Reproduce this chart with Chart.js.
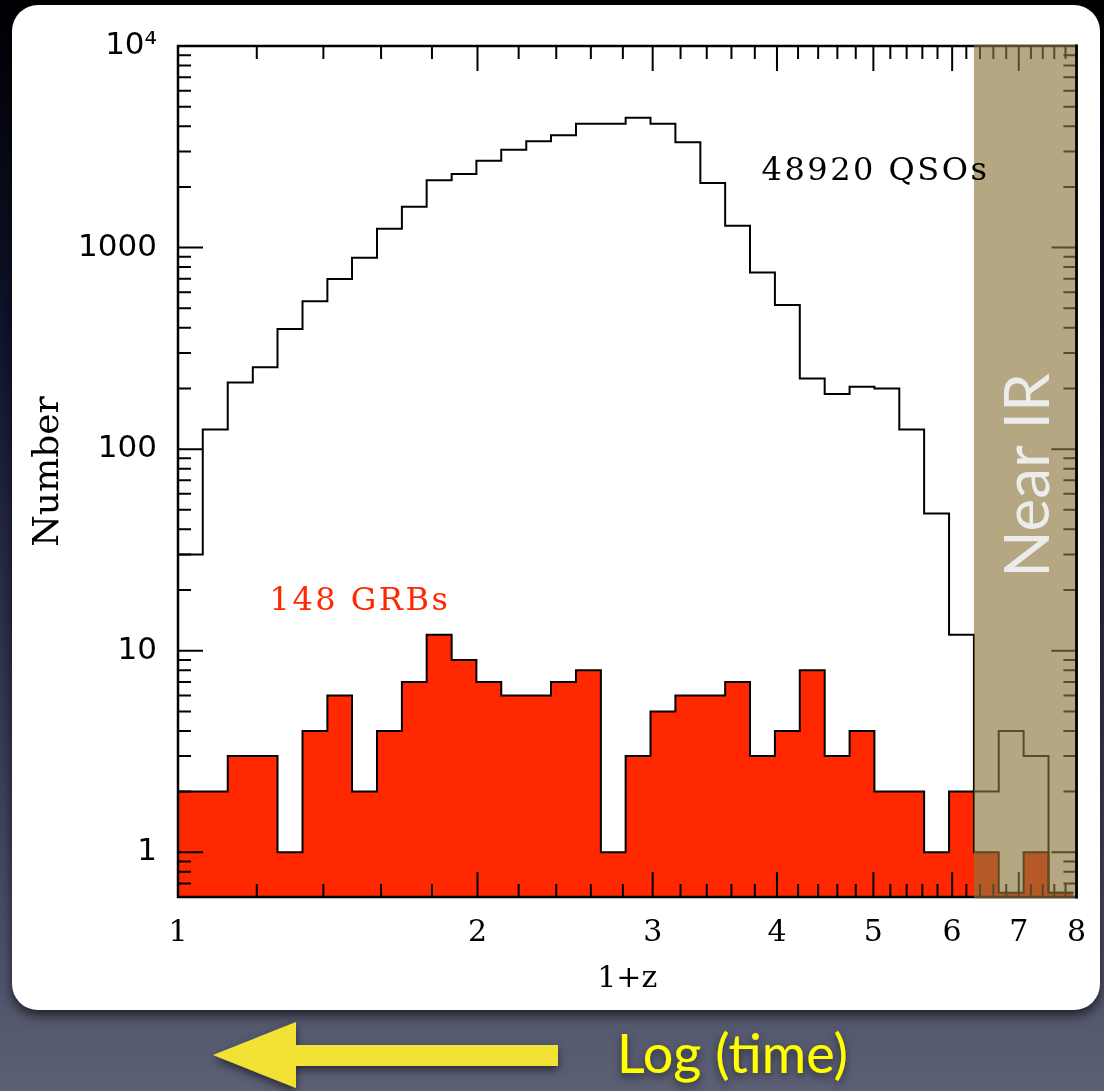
<!DOCTYPE html>
<html>
<head>
<meta charset="utf-8">
<title>Redshift distribution: QSOs and GRBs</title>
<script src="https://cdn.jsdelivr.net/npm/chart.js@4.4.0/dist/chart.umd.min.js"></script>
<style>
  html, body { margin: 0; padding: 0; }
  body {
    width: 1104px; height: 1091px; overflow: hidden; position: relative;
    background: linear-gradient(to bottom, #000003 0%, #10142b 30%, #343851 65%, #5c6075 100%);
  }
  #panel {
    position: absolute; left: 12px; top: 5px; width: 1088px; height: 1005px;
    background: #fff; border-radius: 26px;
    box-shadow: 0 5px 12px rgba(0, 0, 0, 0.65);
  }
  #chart { position: absolute; left: 0; top: 0; }
  #footer { position: absolute; left: 0; top: 0; }
</style>
</head>
<body>
<div id="panel"></div>
<canvas id="chart" width="1104" height="1091"></canvas>
<svg id="footer" width="1104" height="1091">
  <defs>
    <filter id="drop" x="-20%" y="-40%" width="140%" height="200%">
      <feDropShadow dx="0" dy="4" stdDeviation="4" flood-color="#000" flood-opacity="0.55"/>
    </filter>
  </defs>
  <polygon filter="url(#drop)" fill="#f2e236"
           points="213,1055 296,1022 296,1045 558,1045 558,1066 296,1066 296,1088"/>
  <text filter="url(#drop)" x="617" y="1073" fill="#ffff00"
        font-family="Lato, 'Open Sans', sans-serif" font-size="54">Log (time)</text>
</svg>
<script>
// histogram bins, equal width in log10(1+z)
const BIN_EDGES = [1.000, 1.059, 1.122, 1.189, 1.259, 1.334, 1.413, 1.496, 1.585,
    1.679, 1.778, 1.884, 1.995, 2.113, 2.239, 2.371, 2.512, 2.661, 2.818, 2.985,
    3.162, 3.350, 3.548, 3.758, 3.981, 4.217, 4.467, 4.732, 5.012, 5.309, 5.623,
    5.957, 6.310, 6.683, 7.079, 7.499, 7.943];

const QSO_COUNTS = [30, 125, 214, 255, 394, 541, 698, 891, 1240, 1592, 2155, 2320,
    2697, 3055, 3370, 3610, 4120, 4120, 4400, 4110, 3330, 2090, 1282, 752, 519,
    224, 188, 204, 200, 125, 48, 12, 2, 4, 3, 0];

const GRB_COUNTS = [2, 2, 3, 3, 1, 4, 6, 2, 4, 7, 12, 9, 7, 6, 6, 7, 8, 1, 3, 5,
    6, 6, 7, 3, 4, 8, 3, 4, 2, 2, 1, 2, 1, 0, 1, 0];

const X_TICKS = [1, 2, 3, 4, 5, 6, 7, 8];
const Y_TICKS = [1, 10, 100, 1000, 10000];
const Y_TICK_LABELS = ["1", "10", "100", "1000", "10⁴"];

const X_MIN = 1, X_MAX = 8;
const Y_MIN = 0.63, Y_MAX = 10000;
const NEAR_IR_FROM = 6.31;

const GRB_RED = "#ff2800";

// step outline: each bin's count held from its left edge to the next edge,
// closed down to the axis at both ends
function histPoints(counts) {
    const pts = [{ x: BIN_EDGES[0], y: Y_MIN }];
    counts.forEach((c, i) => pts.push({ x: BIN_EDGES[i], y: c > 0 ? c : Y_MIN }));
    const last = counts[counts.length - 1];
    pts.push({ x: BIN_EDGES[BIN_EDGES.length - 1], y: last > 0 ? last : Y_MIN });
    pts.push({ x: BIN_EDGES[BIN_EDGES.length - 1], y: Y_MIN });
    return pts;
}

// inward ticks on all four sides, the near-IR band and the labels
const framePlugin = {
    id: "frame",
    afterDatasetsDraw(chart) {
        const { ctx, chartArea: a, scales: { x, y } } = chart;
        ctx.save();
        ctx.strokeStyle = "#000";
        ctx.lineWidth = 2;
        ctx.beginPath();
        const xMinor = [];
        for (let d = 1; d < 8; d++) {
            for (let k = 1; k <= 4; k++) xMinor.push(d + k * 0.2);
        }
        xMinor.forEach(v => {
            const px = x.getPixelForValue(v);
            ctx.moveTo(px, a.bottom); ctx.lineTo(px, a.bottom - 13);
            ctx.moveTo(px, a.top); ctx.lineTo(px, a.top + 13);
        });
        X_TICKS.slice(1, -1).forEach(v => {
            const px = x.getPixelForValue(v);
            ctx.moveTo(px, a.bottom); ctx.lineTo(px, a.bottom - 25);
            ctx.moveTo(px, a.top); ctx.lineTo(px, a.top + 25);
        });
        for (let dec = 0.1; dec < Y_MAX; dec *= 10) {
            for (let m = 2; m <= 9; m++) {
                const v = m * dec;
                if (v <= Y_MIN || v >= Y_MAX) continue;
                const py = y.getPixelForValue(v);
                ctx.moveTo(a.left, py); ctx.lineTo(a.left + 13, py);
                ctx.moveTo(a.right, py); ctx.lineTo(a.right - 13, py);
            }
        }
        Y_TICKS.slice(0, -1).forEach(v => {
            const py = y.getPixelForValue(v);
            ctx.moveTo(a.left, py); ctx.lineTo(a.left + 25, py);
            ctx.moveTo(a.right, py); ctx.lineTo(a.right - 25, py);
        });
        ctx.stroke();

        ctx.lineWidth = 2.5;
        ctx.strokeRect(a.left, a.top, a.right - a.left, a.bottom - a.top);

        // near-IR band
        const bx = x.getPixelForValue(NEAR_IR_FROM);
        ctx.fillStyle = "rgba(139, 118, 59, 0.64)";
        ctx.fillRect(bx, a.top - 1.5, a.right - bx, a.bottom - a.top + 3);
        ctx.beginPath();
        ctx.moveTo(a.right, a.top - 1.5);
        ctx.lineTo(a.right, a.bottom + 1.5);
        ctx.stroke();

        ctx.fillStyle = "#ececec";
        ctx.font = "62px Lato, 'Open Sans', sans-serif";
        ctx.textAlign = "center";
        ctx.textBaseline = "middle";
        ctx.translate((bx + a.right) / 2 + 4, y.getPixelForValue(74));
        ctx.rotate(-Math.PI / 2);
        ctx.fillText("Near IR", 0, 0);
        ctx.restore();

        ctx.save();
        ctx.font = "32px 'DejaVu Serif', serif";
        ctx.letterSpacing = "2.5px";
        ctx.textAlign = "left";
        ctx.textBaseline = "alphabetic";
        ctx.fillStyle = "#000";
        ctx.fillText("48920 QSOs", x.getPixelForValue(3.86), y.getPixelForValue(2156));
        ctx.fillStyle = GRB_RED;
        ctx.fillText("148 GRBs", x.getPixelForValue(1.236), y.getPixelForValue(15.9));
        ctx.restore();
    }
};

const ctx = document.getElementById("chart").getContext("2d");
new Chart(ctx, {
    type: "line",
    data: {
        datasets: [
            {
                label: "QSOs",
                data: histPoints(QSO_COUNTS),
                stepped: "before",
                borderColor: "#000",
                borderWidth: 2,
                pointRadius: 0,
                fill: false
            },
            {
                label: "GRBs",
                data: histPoints(GRB_COUNTS),
                stepped: "before",
                borderColor: "#000",
                borderWidth: 2,
                backgroundColor: GRB_RED,
                pointRadius: 0,
                fill: "start"
            }
        ]
    },
    options: {
        responsive: false,
        animation: false,
        devicePixelRatio: 1,
        layout: { padding: { left: 0, top: 46, right: 25, bottom: 94 } },
        plugins: { legend: { display: false }, tooltip: { enabled: false } },
        scales: {
            x: {
                type: "logarithmic",
                position: "bottom",
                min: X_MIN,
                max: X_MAX,
                afterBuildTicks: s => { s.ticks = X_TICKS.map(v => ({ value: v })); },
                afterFit: s => { s.height = 100; },
                grid: { display: false, drawTicks: false },
                border: { display: false },
                ticks: {
                    autoSkip: false,
                    maxRotation: 0,
                    padding: 18,
                    color: "#000",
                    font: { family: "'DejaVu Serif', serif", size: 30, lineHeight: 1.2 },
                    callback: (v, i) => String(X_TICKS[i])
                },
                title: {
                    display: true,
                    text: "1+z",
                    color: "#000",
                    padding: { top: 0, bottom: 0 },
                    font: { family: "'DejaVu Serif', serif", size: 30, lineHeight: 1.2 }
                }
            },
            y: {
                type: "logarithmic",
                position: "left",
                min: Y_MIN,
                max: Y_MAX,
                afterBuildTicks: s => { s.ticks = Y_TICKS.map(v => ({ value: v })); },
                afterFit: s => { s.width = 178; },
                grid: { display: false, drawTicks: false },
                border: { display: false },
                ticks: {
                    autoSkip: false,
                    padding: 21,
                    color: "#000",
                    font: { family: "'DejaVu Sans', sans-serif", size: 31 },
                    callback: (v, i) => Y_TICK_LABELS[i]
                },
                title: {
                    display: true,
                    text: "Number",
                    color: "#000",
                    padding: { top: 27, bottom: 0 },
                    font: { family: "'DejaVu Serif', serif", size: 36, lineHeight: 1.2 }
                }
            }
        }
    },
    plugins: [framePlugin]
});
</script>
</body>
</html>
